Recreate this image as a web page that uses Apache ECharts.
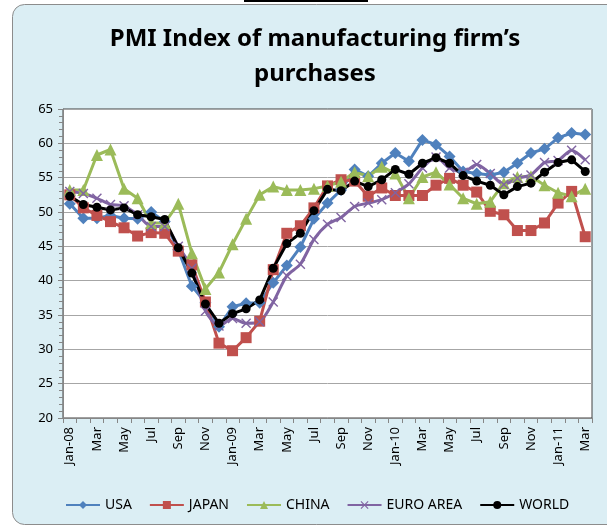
<!DOCTYPE html>
<html>
<head>
<meta charset="utf-8">
<script src="https://cdn.jsdelivr.net/npm/echarts@6/dist/echarts.min.js"></script>
<style>
    html, body { margin: 0; padding: 0; background: #fff; }
    #main { width: 607px; height: 528px; }
</style>
</head>
<body>
<div id="main"></div>
<script>
// months Jan-08 .. Mar-11, label shown every second month
var months = ['Jan-08', 'Feb', 'Mar', 'Apr', 'May', 'Jun', 'Jul', 'Aug', 'Sep', 'Oct', 'Nov', 'Dec',
    'Jan-09', 'Feb', 'Mar', 'Apr', 'May', 'Jun', 'Jul', 'Aug', 'Sep', 'Oct', 'Nov', 'Dec',
    'Jan-10', 'Feb', 'Mar', 'Apr', 'May', 'Jun', 'Jul', 'Aug', 'Sep', 'Oct', 'Nov', 'Dec',
    'Jan-11', 'Feb', 'Mar'];

var usa = [51.2, 49.1, 49.1, 49.5, 49.1, 49.0, 50.0, 48.6, 44.5, 39.2, 36.8, 33.3,
    36.2, 36.7, 36.8, 39.7, 42.2, 44.9, 49.0, 51.3, 53.2, 56.2, 55.2, 57.1,
    58.6, 57.4, 60.5, 59.8, 58.1, 55.9, 55.6, 55.4, 55.8, 57.1, 58.6, 59.2,
    60.8, 61.5, 61.3];

var japan = [52.5, 50.6, 49.5, 48.6, 47.7, 46.5, 47.0, 46.9, 44.3, 42.3, 36.9, 30.9,
    29.8, 31.7, 34.1, 41.6, 46.9, 48.0, 50.6, 53.8, 54.7, 54.5, 52.3, 53.5,
    52.4, 52.4, 52.4, 53.9, 54.9, 53.9, 52.9, 50.1, 49.6, 47.3, 47.3, 48.4,
    51.3, 53.0, 46.4];

var china = [53.2, 53.2, 58.3, 59.1, 53.4, 52.0, 48.4, 48.4, 51.2, 44.0, 38.8, 41.2,
    45.3, 49.0, 52.5, 53.7, 53.2, 53.2, 53.4, 53.8, 54.4, 55.8, 55.2, 56.6,
    55.6, 52.0, 55.1, 55.8, 54.0, 52.0, 51.2, 51.5, 54.2, 55.1, 55.2, 53.9,
    52.8, 52.3, 53.4];

var euroArea = [53.0, 52.7, 52.0, 51.1, 50.9, 49.6, 47.9, 47.9, 45.0, 41.8, 35.6, 33.4,
    34.5, 33.8, 34.0, 36.9, 40.7, 42.4, 46.0, 48.2, 49.2, 50.8, 51.3, 51.8,
    52.8, 54.1, 56.4, 58.0, 56.4, 55.8, 56.9, 55.6, 54.0, 54.9, 55.4, 57.2,
    57.5, 59.0, 57.6];

var world = [52.3, 51.1, 50.7, 50.3, 50.6, 49.6, 49.3, 48.9, 44.8, 41.1, 36.6, 33.8,
    35.2, 35.9, 37.2, 41.8, 45.4, 46.9, 50.2, 53.3, 53.1, 54.5, 53.7, 54.7,
    56.2, 55.5, 57.1, 57.9, 57.1, 55.3, 54.5, 53.9, 52.5, 53.7, 54.2, 55.8,
    57.2, 57.6, 55.9];

var crossIcon = 'path://M0,1L1,0L5,4L9,0L10,1L6,5L10,9L9,10L5,6L1,10L0,9L4,5Z';
var font = 'Noto Sans';

function lineSeries(name, data, color, symbol, size, smooth) {
    return {
        name: name,
        type: 'line',
        data: data,
        symbol: symbol,
        symbolSize: size,
        showAllSymbol: true,
        smooth: smooth || false,
        lineStyle: { color: color, width: 3 },
        itemStyle: { color: color, borderWidth: 0 },
        emphasis: { disabled: true }
    };
}

var myChart = echarts.init(document.getElementById('main'));

myChart.setOption({
    animation: false,
    textStyle: { fontFamily: font },
    graphic: [
        {
            type: 'rect', z: -10,
            shape: { x: 12.5, y: 4.5, width: 620, height: 520, r: 12 },
            style: { fill: '#DBEEF4', stroke: '#8C8C8C', lineWidth: 1 }
        },
        {
            type: 'rect', z: -9,
            shape: { x: 244, y: 0, width: 124, height: 2 },
            style: { fill: '#000' }
        }
    ],
    title: {
        text: 'PMI Index of manufacturing firm’s\npurchases',
        left: 310,
        textAlign: 'center',
        top: 17,
        textStyle: {
            fontFamily: font,
            fontSize: 24,
            fontWeight: 'bold',
            color: '#000',
            lineHeight: 35
        }
    },
    legend: {
        bottom: 11,
        left: 60,
        itemWidth: 34,
        itemHeight: 10,
        itemGap: 17,
        textStyle: { fontFamily: font, fontSize: 14, color: '#000' },
        data: ['USA', 'JAPAN', 'CHINA', 'EURO AREA', 'WORLD']
    },
    grid: {
        left: 63,
        top: 109,
        width: 529,
        height: 309,
        show: true,
        backgroundColor: '#fff',
        borderColor: '#404040',
        borderWidth: 1
    },
    xAxis: {
        type: 'category',
        data: months,
        boundaryGap: true,
        axisLine: { lineStyle: { color: '#868686', width: 1 } },
        axisTick: { show: true, interval: 0, length: 5, lineStyle: { color: '#868686' } },
        axisLabel: {
            interval: 1,
            rotate: 90,
            fontFamily: font,
            fontSize: 13,
            color: '#000',
            margin: 9
        },
        splitLine: { show: false }
    },
    yAxis: {
        type: 'value',
        min: 20,
        max: 65,
        interval: 5,
        axisLine: { show: true, lineStyle: { color: '#868686', width: 1 } },
        axisTick: { show: true, length: 5, lineStyle: { color: '#868686' } },
        minorTick: { show: true, splitNumber: 5, length: 4, lineStyle: { color: '#868686' } },
        axisLabel: { fontFamily: font, fontSize: 13, color: '#000', margin: 10 },
        splitLine: { lineStyle: { color: '#A6A6A6', width: 1 } }
    },
    series: [
        lineSeries('USA', usa, '#4F81BD', 'diamond', 12),
        lineSeries('JAPAN', japan, '#C0504D', 'rect', 11),
        lineSeries('CHINA', china, '#9BBB59', 'triangle', 12),
        lineSeries('EURO AREA', euroArea, '#8064A2', crossIcon, 10, 0.25),
        lineSeries('WORLD', world, '#000000', 'circle', 9)
    ]
});
</script>
</body>
</html>
